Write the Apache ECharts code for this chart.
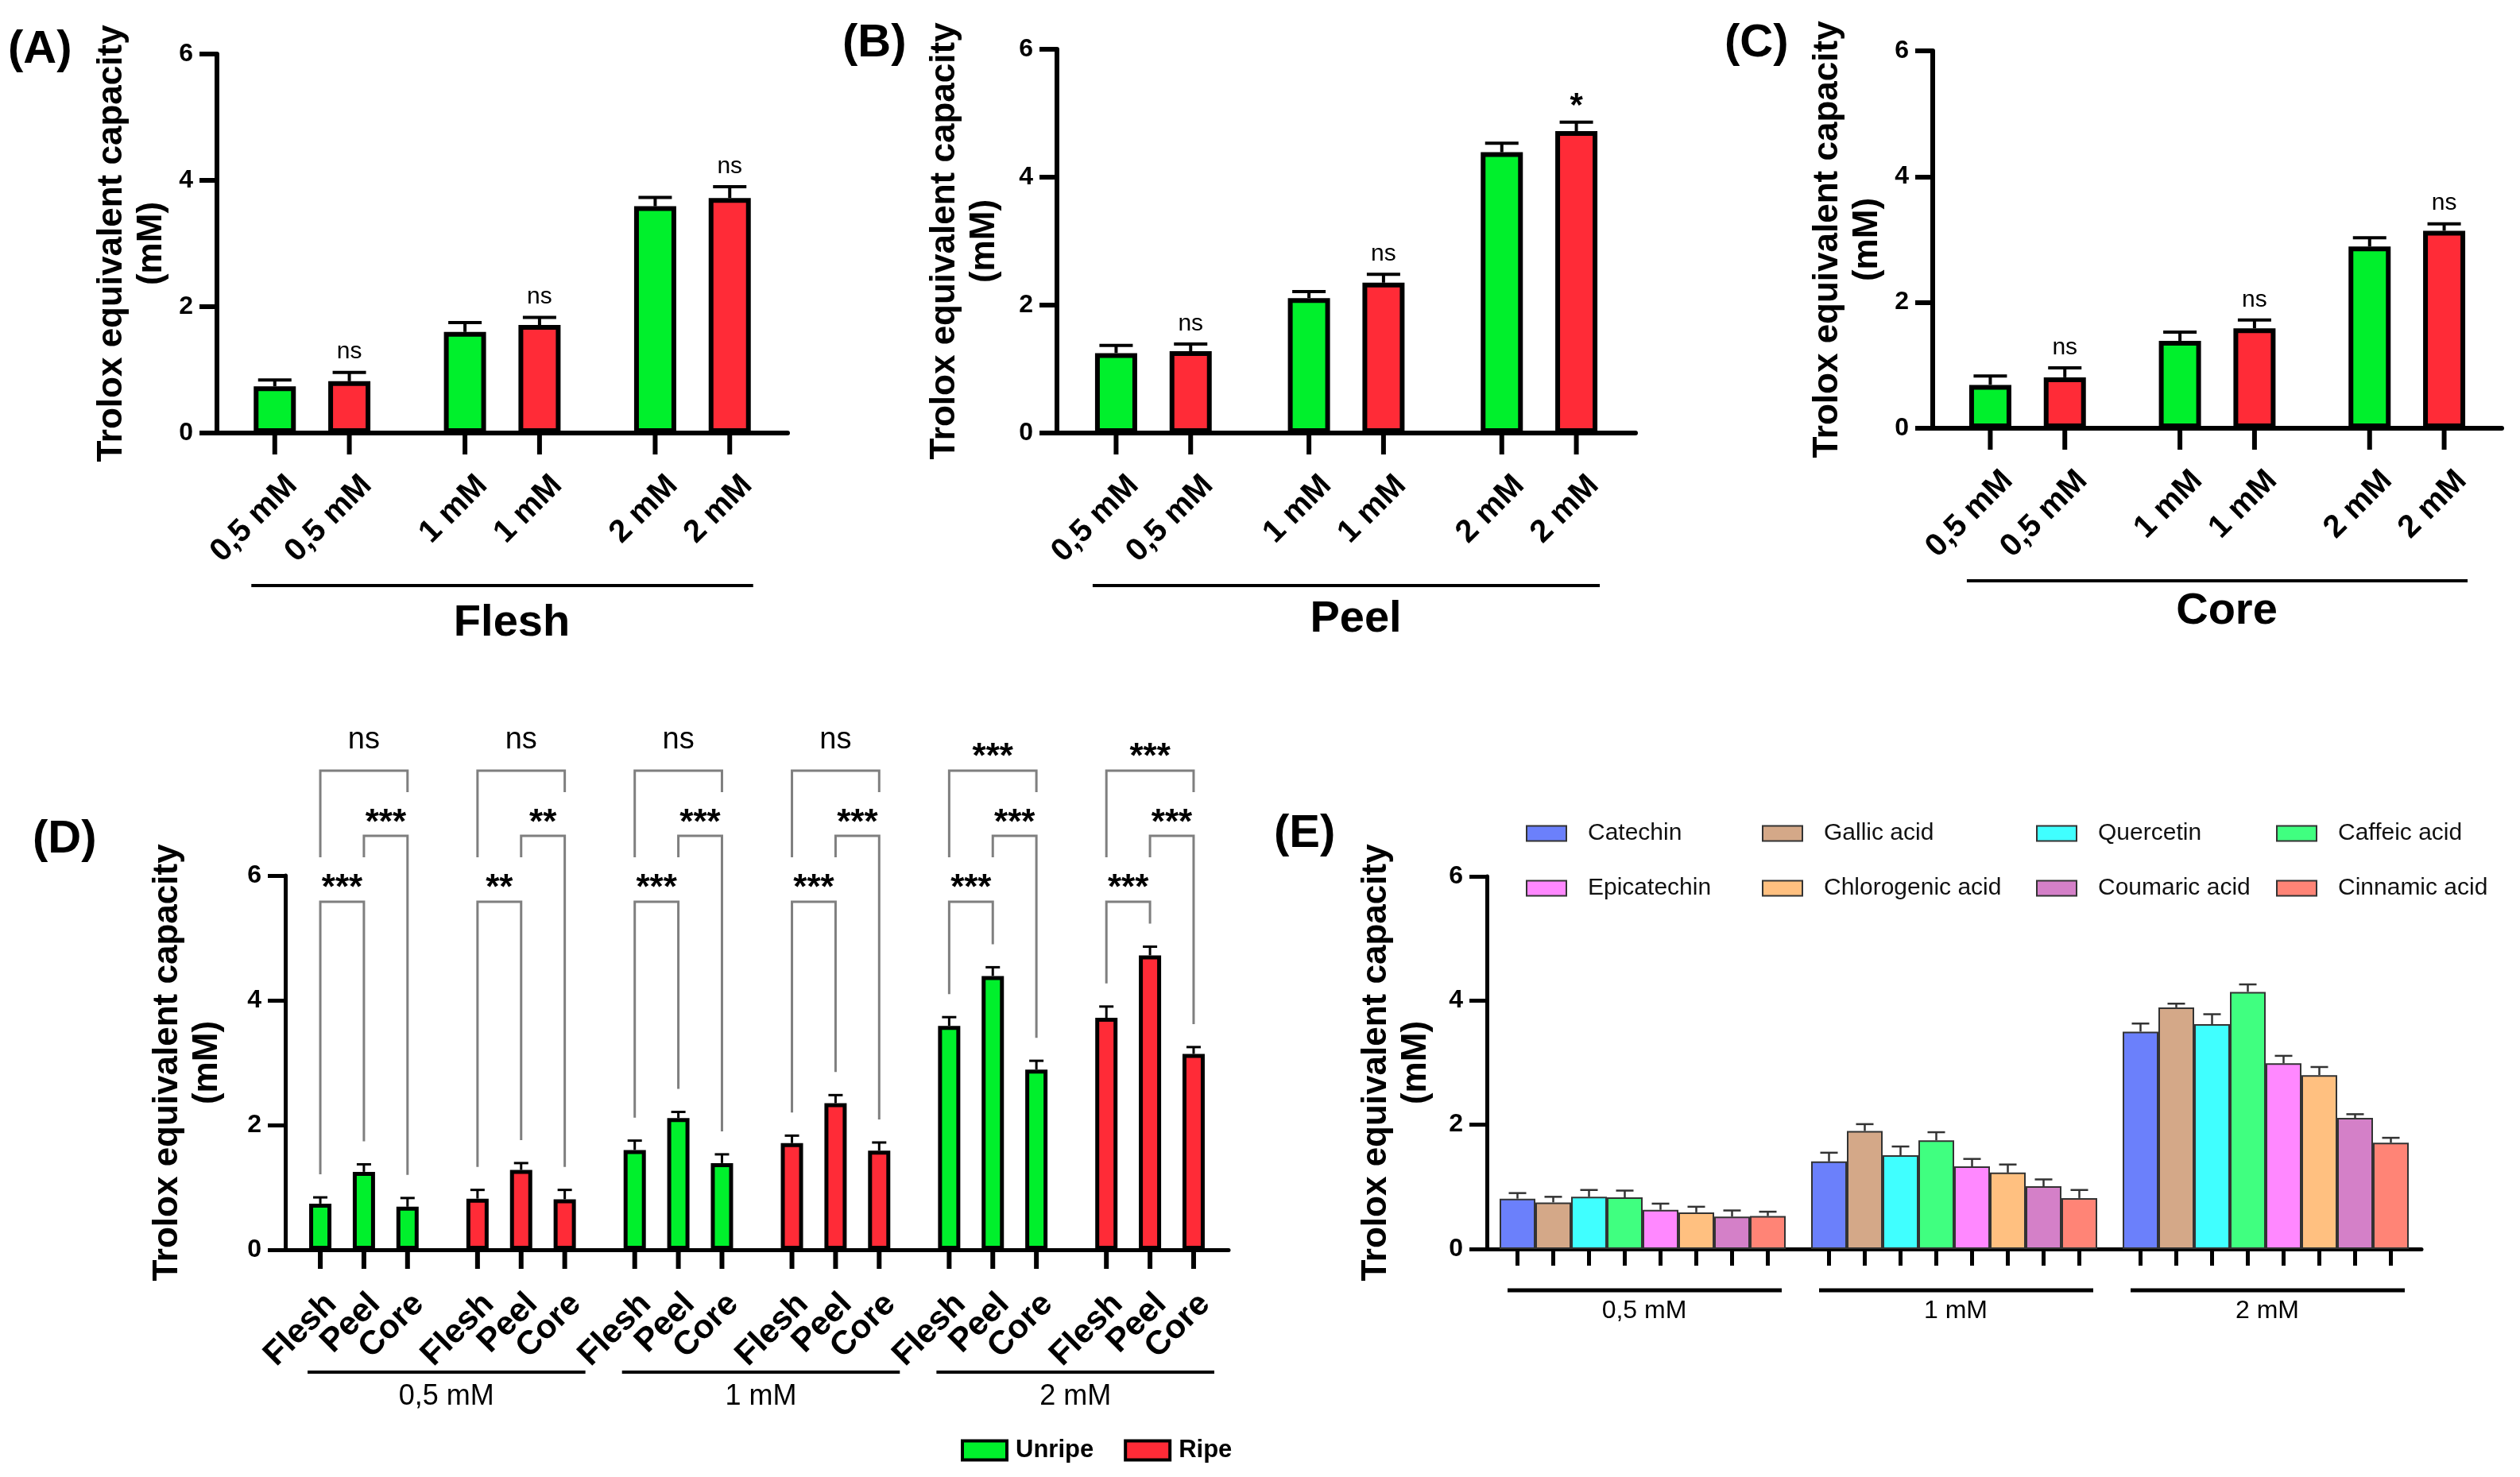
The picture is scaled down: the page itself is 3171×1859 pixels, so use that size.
<!DOCTYPE html>
<html>
<head>
<meta charset="utf-8">
<script src="https://cdn.jsdelivr.net/npm/echarts@6/dist/echarts.min.js"></script>
<style>
  html, body { margin: 0; padding: 0; background: #fff; }
  #chart { width: 3171px; height: 1859px; }
</style>
</head>
<body>
<div id="chart"></div>
<script>
// ---------- data ----------
const concLabels = ['0,5 mM', '1 mM', '2 mM'];
const parts = ['Flesh', 'Peel', 'Core'];

// (A) flesh
const fleshUnripe = [0.74, 1.60, 3.59];
const fleshUnripeErr = [0.10, 0.15, 0.14];
const fleshRipe = [0.82, 1.71, 3.72];
const fleshRipeErr = [0.14, 0.12, 0.18];
const fleshSig = ['ns', 'ns', 'ns'];

// (B) peel
const peelUnripe = [1.25, 2.11, 4.39];
const peelUnripeErr = [0.12, 0.10, 0.14];
const peelRipe = [1.28, 2.35, 4.72];
const peelRipeErr = [0.11, 0.13, 0.14];
const peelSig = ['ns', 'ns', '*'];

// (C) core
const coreUnripe = [0.69, 1.39, 2.89];
const coreUnripeErr = [0.14, 0.14, 0.14];
const coreRipe = [0.81, 1.59, 3.14];
const coreRipeErr = [0.15, 0.13, 0.11];
const coreSig = ['ns', 'ns', 'ns'];

// (D) comparisons inside each concentration / ripeness group
const ripeness = ['Unripe', 'Ripe'];
const sigFleshPeel = ['***', '**', '***', '***', '***', '***'];
const sigPeelCore = ['***', '**', '***', '***', '***', '***'];
const sigFleshCore = ['ns', 'ns', 'ns', 'ns', '***', '***'];

// (E) pure compounds
const compounds = ['Catechin', 'Gallic acid', 'Quercetin', 'Caffeic acid',
  'Epicatechin', 'Chlorogenic acid', 'Coumaric acid', 'Cinnamic acid'];
const e05 = [0.81, 0.75, 0.84, 0.83, 0.63, 0.59, 0.52, 0.53];
const e05Err = [0.09, 0.09, 0.11, 0.11, 0.10, 0.09, 0.10, 0.07];
const e1 = [1.41, 1.90, 1.51, 1.75, 1.33, 1.23, 1.01, 0.82];
const e1Err = [0.14, 0.11, 0.14, 0.13, 0.12, 0.13, 0.11, 0.13];
const e2 = [3.50, 3.89, 3.62, 4.14, 2.99, 2.80, 2.11, 1.71];
const e2Err = [0.13, 0.06, 0.16, 0.12, 0.12, 0.13, 0.06, 0.08];

// ---------- style ----------
const FONT = '"Liberation Sans", Arial, Helvetica, sans-serif';
const GREEN = '#00f02c';
const RED = '#ff2b37';
const E_COLORS = ['#6b80fb', '#d4a888', '#40ffff', '#40ff80',
  '#ff88ff', '#ffc080', '#d480c8', '#ff8476'];
const GRAY = '#7f7f7f';

const AC_BAR = 53, AC_GAP = 0.77;
const D_BAR = 28, D_GAP = 0.96;
const E_BAR = 45;

function font(size, weight) {
  return (weight || 'normal') + ' ' + size + 'px ' + FONT;
}
function seg(x1, y1, x2, y2, w, c) {
  return { type: 'line', shape: { x1: x1, y1: y1, x2: x2, y2: y2 },
    style: { stroke: c || '#000', lineWidth: w } };
}
function poly(points, w, c) {
  return { type: 'polyline', shape: { points: points },
    style: { stroke: c, lineWidth: w, fill: null } };
}
function txt(s, x, y, f, align, rot) {
  return { type: 'text', x: x, y: y, rotation: rot || 0,
    style: { text: s, font: f, fill: '#000', align: align || 'center', verticalAlign: 'middle' } };
}
// place a significance mark by the visual centre of its glyphs
function sig(s, x, vc, nsSize, starSize) {
  if (s.charAt(0) === '*') return txt(s, x, vc + 0.27 * starSize, font(starSize, 'bold'));
  return txt(s, x, vc - 0.05 * nsSize, font(nsSize));
}
function errBar(x, yTop, yErr, half, w, c) {
  return [seg(x, yTop, x, yErr, w, c), seg(x - half, yErr, x + half, yErr, w, c)];
}

// ---------- panels A-C ----------
function pairCustom(gi, unr, unrErr, rip, ripErr, marks) {
  return {
    type: 'custom', xAxisIndex: gi, yAxisIndex: gi, z: 5, silent: true,
    data: concLabels.map(function (c, i) { return [i, 0]; }),
    encode: { x: 0, y: 1 },
    renderItem: function (params, api) {
      const i = api.value(0);
      const base = api.coord([i, 0]);
      const cx = base[0], y0 = base[1];
      const pitch = AC_BAR * (1 + AC_GAP);
      const ch = [];
      [[unr, unrErr], [rip, ripErr]].forEach(function (p, k) {
        const x = cx + (k - 0.5) * pitch;
        const yTop = api.coord([i, p[0][i]])[1];
        const yErr = api.coord([i, p[0][i] + p[1][i]])[1];
        errBar(x, yTop, yErr, 21, 4, '#000').forEach(function (e) { ch.push(e); });
        ch.push(seg(x, y0, x, y0 + 27, 6));
        ch.push(txt(concLabels[i], x + 22, y0 + 60, font(40, 'bold'), 'right', Math.PI / 4));
        if (k === 1) ch.push(sig(marks[i], x, yErr - (marks[i] === 'ns' ? 24 : 31), 30, 42));
      });
      if (i === 0) {
        const xLast = api.coord([concLabels.length - 1, 0])[0];
        ch.push(seg(cx - 0.5 * pitch - AC_BAR / 2 - 3, y0 + 192,
          xLast + 0.5 * pitch + AC_BAR / 2 + 3, y0 + 192, 4));
      }
      return { type: 'group', children: ch };
    }
  };
}

// ---------- panel D data built from A-C ----------
function interleave(u, r) {
  const out = [];
  for (let c = 0; c < u.length; c++) { out.push(u[c]); out.push(r[c]); }
  return out;
}
const dCats = interleave(concLabels, concLabels);
const dRipe = interleave(concLabels.map(function () { return 'Unripe'; }),
  concLabels.map(function () { return 'Ripe'; }));
const dVals = [interleave(fleshUnripe, fleshRipe), interleave(peelUnripe, peelRipe), interleave(coreUnripe, coreRipe)];
const dErrs = [interleave(fleshUnripeErr, fleshRipeErr), interleave(peelUnripeErr, peelRipeErr), interleave(coreUnripeErr, coreRipeErr)];

function dCustom() {
  return {
    type: 'custom', xAxisIndex: 3, yAxisIndex: 3, z: 5, silent: true,
    data: dCats.map(function (c, i) { return [i, 0]; }),
    encode: { x: 0, y: 1 },
    renderItem: function (params, api) {
      const i = api.value(0);
      const base = api.coord([i, 0]);
      const cx = base[0], y0 = base[1];
      const y6 = api.coord([i, 6])[1];
      const pitch = D_BAR * (1 + D_GAP);
      const ch = [];
      const xs = [], legEnd = [];
      for (let k = 0; k < 3; k++) {
        const x = cx + (k - 1) * pitch;
        const yTop = api.coord([i, dVals[k][i]])[1];
        const yErr = api.coord([i, dVals[k][i] + dErrs[k][i]])[1];
        xs.push(x); legEnd.push(yErr - 29);
        errBar(x, yTop, yErr, 9, 3, '#000').forEach(function (e) { ch.push(e); });
        ch.push(seg(x, y0, x, y0 + 24, 6));
        ch.push(txt(parts[k], x + 14, y0 + 62, font(42, 'bold'), 'right', Math.PI / 4));
      }
      // Flesh vs Peel
      const fp = y6 + 33;
      ch.push(poly([[xs[0], legEnd[0]], [xs[0], fp], [xs[1], fp], [xs[1], legEnd[1]]], 3, GRAY));
      ch.push(sig(sigFleshPeel[i], (xs[0] + xs[1]) / 2, fp - 28, 38, 44));
      // Peel vs Core
      const pc = y6 - 50;
      ch.push(poly([[xs[1], y6 - 23], [xs[1], pc], [xs[2], pc], [xs[2], legEnd[2]]], 3, GRAY));
      ch.push(sig(sigPeelCore[i], (xs[1] + xs[2]) / 2, pc - 27, 38, 44));
      // Flesh vs Core
      const fc = y6 - 132;
      ch.push(poly([[xs[0], y6 - 23], [xs[0], fc], [xs[2], fc], [xs[2], y6 - 105]], 3, GRAY));
      ch.push(sig(sigFleshCore[i], xs[1], fc - (sigFleshCore[i] === 'ns' ? 37 : 28), 38, 44));
      if (i % 2 === 0) {
        const band = api.size([1, 0])[0];
        const x1 = xs[0] - 16, x2 = cx + band + pitch + 26;
        ch.push(seg(x1, y0 + 154, x2, y0 + 154, 4));
        ch.push(txt(dCats[i], (x1 + x2) / 2, y0 + 185, font(36)));
      }
      return { type: 'group', children: ch };
    }
  };
}

// ---------- panel E ----------
const eMeans = [e05, e1, e2];
const eErrs = [e05Err, e1Err, e2Err];

function eCustom() {
  return {
    type: 'custom', xAxisIndex: 4, yAxisIndex: 4, z: 5, silent: true,
    data: concLabels.map(function (c, i) { return [i, 0]; }),
    encode: { x: 0, y: 1 },
    renderItem: function (params, api) {
      const i = api.value(0);
      const base = api.coord([i, 0]);
      const cx = base[0], y0 = base[1];
      const ch = [];
      for (let k = 0; k < compounds.length; k++) {
        const x = cx + (k - (compounds.length - 1) / 2) * E_BAR;
        const yTop = api.coord([i, eMeans[i][k]])[1];
        const yErr = api.coord([i, eMeans[i][k] + eErrs[i][k]])[1];
        errBar(x, yTop, yErr, 11, 2.5, '#333').forEach(function (e) { ch.push(e); });
        ch.push(seg(x, y0, x, y0 + 21, 5));
      }
      ch.push(seg(cx - 170, y0 + 52, cx + 175, y0 + 52, 5));
      ch.push(txt(concLabels[i], cx + 2, y0 + 78, font(32)));
      return { type: 'group', children: ch };
    }
  };
}

// ---------- axes ----------
function xCat(gi, data, lw, name, gap) {
  return {
    type: 'category', gridIndex: gi, data: data,
    axisLine: { lineStyle: { color: '#000', width: lw } },
    axisTick: { show: false }, axisLabel: { show: false }, splitLine: { show: false },
    name: name || '', nameLocation: 'middle', nameGap: gap || 0,
    nameTextStyle: { fontSize: 56, fontWeight: 'bold', color: '#000', padding: [0, 0, 0, 24] }
  };
}
function yVal(gi, lw, gap) {
  return {
    type: 'value', gridIndex: gi, min: 0, max: 6, interval: 2,
    axisLine: { show: true, lineStyle: { color: '#000', width: lw } },
    axisTick: { show: true, length: 22, lineStyle: { color: '#000', width: lw } },
    axisLabel: { fontSize: 32, fontWeight: 'bold', color: '#000', margin: 30 },
    splitLine: { show: false },
    name: 'Trolox equivalent capacity\n(mM)', nameLocation: 'middle', nameRotate: 90, nameGap: gap,
    nameTextStyle: { fontSize: 44, fontWeight: 'bold', color: '#000', lineHeight: 50 }
  };
}

function bar(name, gi, data, color, width, gap, bw) {
  return {
    type: 'bar', name: name, xAxisIndex: gi, yAxisIndex: gi, data: data,
    barWidth: width, barGap: gap, silent: true,
    itemStyle: { color: color, borderColor: '#000', borderWidth: bw }
  };
}

const series = [
  bar('Unripe', 0, fleshUnripe, GREEN, AC_BAR, (AC_GAP * 100) + '%', 6),
  bar('Ripe', 0, fleshRipe, RED, AC_BAR, (AC_GAP * 100) + '%', 6),
  bar('Unripe', 1, peelUnripe, GREEN, AC_BAR, (AC_GAP * 100) + '%', 6),
  bar('Ripe', 1, peelRipe, RED, AC_BAR, (AC_GAP * 100) + '%', 6),
  bar('Unripe', 2, coreUnripe, GREEN, AC_BAR, (AC_GAP * 100) + '%', 6),
  bar('Ripe', 2, coreRipe, RED, AC_BAR, (AC_GAP * 100) + '%', 6),
  pairCustom(0, fleshUnripe, fleshUnripeErr, fleshRipe, fleshRipeErr, fleshSig),
  pairCustom(1, peelUnripe, peelUnripeErr, peelRipe, peelRipeErr, peelSig),
  pairCustom(2, coreUnripe, coreUnripeErr, coreRipe, coreRipeErr, coreSig)
];
parts.forEach(function (p, k) {
  series.push({
    type: 'bar', name: p, xAxisIndex: 3, yAxisIndex: 3, silent: true,
    barWidth: D_BAR, barGap: (D_GAP * 100) + '%',
    data: dVals[k].map(function (v, i) {
      return { value: v, itemStyle: { color: dRipe[i] === 'Unripe' ? GREEN : RED } };
    }),
    itemStyle: { borderColor: '#000', borderWidth: 5 }
  });
});
series.push(dCustom());
compounds.forEach(function (c, k) {
  series.push({
    type: 'bar', name: c, xAxisIndex: 4, yAxisIndex: 4, silent: true,
    barWidth: E_BAR, barGap: '0%',
    data: eMeans.map(function (m) { return m[k]; }),
    itemStyle: { color: E_COLORS[k], borderColor: '#333', borderWidth: 2 }
  });
});
series.push(eCustom());

function panelTitle(t, x, y) {
  return { text: t, left: x, top: y, padding: 0,
    textStyle: { fontSize: 58, fontWeight: 'bold', color: '#000', fontFamily: FONT } };
}
function eLegend(names, x) {
  return {
    data: names, orient: 'vertical', left: x, top: 1034, padding: 0,
    itemWidth: 50, itemHeight: 19, itemGap: 39, icon: 'rect', selectedMode: false,
    itemStyle: { borderColor: '#333', borderWidth: 2 },
    textStyle: { fontSize: 30, color: '#111', fontFamily: FONT, padding: [0, 0, 0, 22] }
  };
}

const option = {
  animation: false,
  backgroundColor: '#fff',
  textStyle: { fontFamily: FONT },
  title: [
    panelTitle('(A)', 10, 34), panelTitle('(B)', 1060, 26), panelTitle('(C)', 2170, 26),
    panelTitle('(D)', 41, 1028), panelTitle('(E)', 1603, 1021)
  ],
  legend: [
    {
      data: ripeness, left: 1209, top: 1810, padding: 0, icon: 'rect', selectedMode: false,
      itemWidth: 56, itemHeight: 24, itemGap: 38,
      itemStyle: { borderColor: '#000', borderWidth: 4 },
      textStyle: { fontSize: 31, fontWeight: 'bold', color: '#000', fontFamily: FONT, padding: [0, 0, 0, 6] }
    },
    eLegend([compounds[0], compounds[4]], 1920),
    eLegend([compounds[1], compounds[5]], 2217),
    eLegend([compounds[2], compounds[6]], 2562),
    eLegend([compounds[3], compounds[7]], 2864)
  ],
  grid: [
    { left: 273, top: 68, width: 718, height: 477 },
    { left: 1330, top: 62, width: 728, height: 483 },
    { left: 2432, top: 64, width: 716, height: 475 },
    { left: 359, top: 1102, width: 1187, height: 471 },
    { left: 1871, top: 1103, width: 1176, height: 469 }
  ],
  xAxis: [
    xCat(0, concLabels, 6, 'Flesh', 212),
    xCat(1, concLabels, 6, 'Peel', 207),
    xCat(2, concLabels, 6, 'Core', 203),
    xCat(3, dCats, 5),
    xCat(4, concLabels, 5)
  ],
  yAxis: [
    yVal(0, 6, 57), yVal(1, 6, 66), yVal(2, 6, 57), yVal(3, 5, 73), yVal(4, 5, 64)
  ],
  series: series
};

const chart = echarts.init(document.getElementById('chart'));
chart.setOption(option);
</script>
</body>
</html>
